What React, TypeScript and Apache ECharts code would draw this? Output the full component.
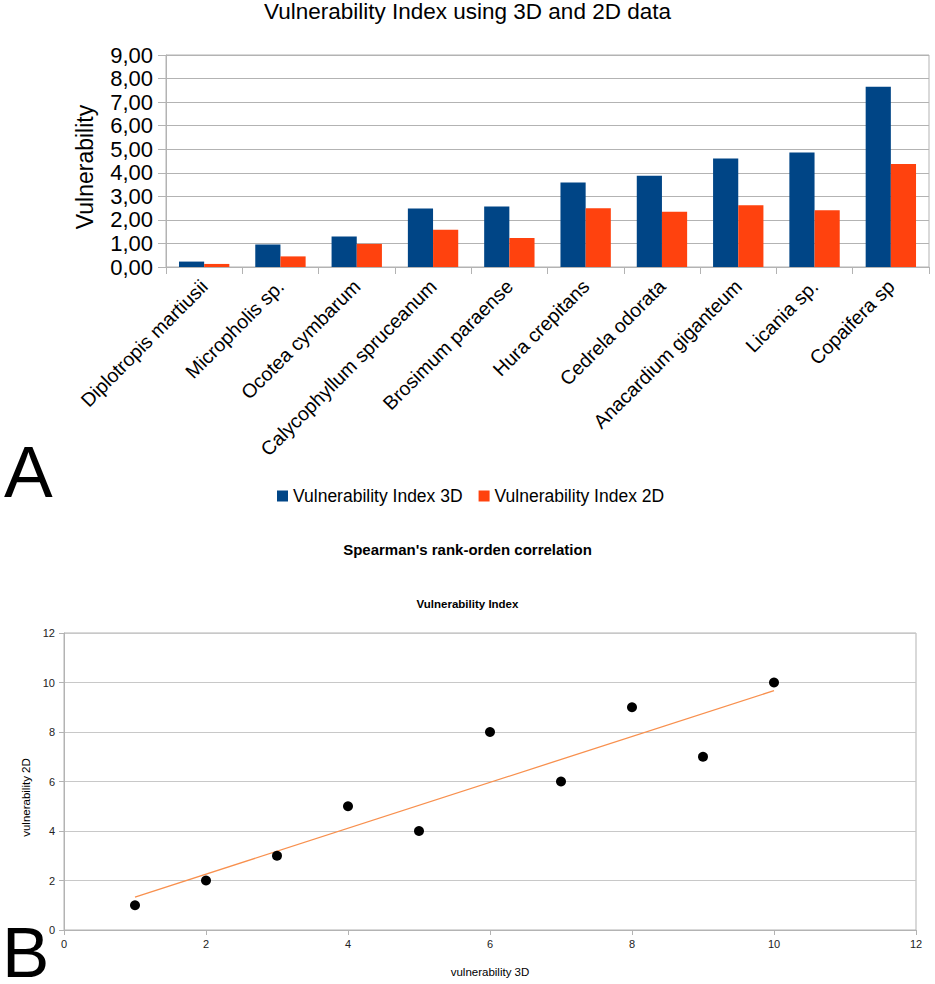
import React, { useEffect, useRef } from "react";
import * as echarts from "echarts";

const FONT = "'Liberation Sans', Arial, sans-serif";

const categories = [
  "Diplotropis martiusii",
  "Micropholis sp.",
  "Ocotea cymbarum",
  "Calycophyllum spruceanum",
  "Brosimum paraense",
  "Hura crepitans",
  "Cedrela odorata",
  "Anacardium giganteum",
  "Licania sp.",
  "Copaifera sp",
];
const index3D = [0.23, 0.95, 1.3, 2.48, 2.57, 3.59, 3.87, 4.61, 4.86, 7.65];
const index2D = [0.13, 0.45, 0.98, 1.58, 1.23, 2.49, 2.35, 2.62, 2.41, 4.37];

const rank3D = [1, 2, 3, 4, 5, 6, 7, 8, 9, 10];
const rank2D = [1, 2, 3, 5, 4, 8, 6, 9, 7, 10];

const seriesNames = ["Vulnerability Index 3D", "Vulnerability Index 2D"];

function trendLine(xs: number[], ys: number[]) {
  const n = xs.length;
  const mx = xs.reduce((a, b) => a + b, 0) / n;
  const my = ys.reduce((a, b) => a + b, 0) / n;
  let sxy = 0;
  let sxx = 0;
  for (let i = 0; i < n; i++) {
    sxy += (xs[i] - mx) * (ys[i] - my);
    sxx += (xs[i] - mx) * (xs[i] - mx);
  }
  const slope = sxy / sxx;
  const b = my - slope * mx;
  const x0 = Math.min(...xs);
  const x1 = Math.max(...xs);
  return [
    [x0, slope * x0 + b],
    [x1, slope * x1 + b],
  ];
}

export default function App() {
  const ref = useRef<HTMLDivElement>(null);
  useEffect(() => {
    if (!ref.current) return;
    const chart = echarts.init(ref.current, undefined, { renderer: "svg" });
    const grid = "#b3b3b3";
    const option: any = {
      animation: false,
      backgroundColor: "#ffffff",
      textStyle: { fontFamily: FONT },
      title: [
        {
          text: "Vulnerability Index using 3D and 2D data",
          left: "center",
          top: 0,
          padding: 0,
          textStyle: { fontSize: 22.5, fontWeight: "normal", color: "#000", fontFamily: FONT },
        },
        {
          text: "Spearman's rank-orden correlation",
          left: "center",
          top: 542,
          padding: 0,
          textStyle: { fontSize: 15, fontWeight: "bold", color: "#000", fontFamily: FONT },
        },
        {
          text: "Vulnerability Index",
          left: "center",
          top: 598,
          padding: 0,
          textStyle: { fontSize: 11.5, fontWeight: "bold", color: "#000", fontFamily: FONT },
        },
      ],
      legend: {
        data: seriesNames,
        left: 272,
        top: 482,
        icon: "rect",
        itemWidth: 11,
        itemHeight: 11,
        itemGap: 16,
        textStyle: { fontSize: 17.5, color: "#000", fontFamily: FONT },
      },
      grid: [
        {
          left: 166,
          right: 6,
          top: 55,
          height: 212,
          show: true,
          borderColor: grid,
          borderWidth: 1,
          containLabel: false,
        },
        {
          left: 64,
          right: 19,
          top: 633,
          height: 297,
          show: true,
          borderColor: grid,
          borderWidth: 1,
          containLabel: false,
        },
      ],
      xAxis: [
        {
          type: "category",
          gridIndex: 0,
          data: categories,
          axisLine: { lineStyle: { color: grid, width: 1 } },
          axisTick: { show: true, interval: 0, length: 7, lineStyle: { color: grid } },
          axisLabel: {
            interval: 0,
            rotate: 45,
            margin: 16,
            fontSize: 19.5,
            color: "#000",
            fontFamily: FONT,
          },
        },
        {
          type: "value",
          gridIndex: 1,
          min: 0,
          max: 12,
          interval: 2,
          name: "vulnerability 3D",
          nameLocation: "middle",
          nameGap: 36,
          nameTextStyle: { fontSize: 11.5, color: "#000", fontFamily: FONT },
          splitLine: { show: false },
          axisLine: { lineStyle: { color: grid } },
          axisTick: { show: true, length: 5, lineStyle: { color: grid } },
          axisLabel: { fontSize: 11, color: "#222", margin: 8, fontFamily: FONT },
        },
      ],
      yAxis: [
        {
          type: "value",
          gridIndex: 0,
          min: 0,
          max: 9,
          interval: 1,
          name: "Vulnerability",
          nameLocation: "middle",
          nameGap: 70,
          nameTextStyle: { fontSize: 23, color: "#000", fontFamily: FONT, padding: [0, 0, 0, -12] },
          axisLine: { show: true, lineStyle: { color: grid } },
          axisTick: { show: true, length: 8, lineStyle: { color: grid } },
          splitLine: { lineStyle: { color: grid, width: 1 } },
          axisLabel: {
            fontSize: 22,
            color: "#000",
            margin: 13,
            fontFamily: FONT,
            formatter: (v: number) => v.toFixed(2).replace(".", ","),
          },
        },
        {
          type: "value",
          gridIndex: 1,
          min: 0,
          max: 12,
          interval: 2,
          name: "vulnerability 2D",
          nameLocation: "middle",
          nameGap: 25,
          nameRotate: 90,
          nameTextStyle: { fontSize: 11.5, color: "#000", fontFamily: FONT, padding: [0, 0, 0, -32] },
          axisLine: { show: true, lineStyle: { color: grid } },
          axisTick: { show: true, length: 5, lineStyle: { color: grid } },
          splitLine: { lineStyle: { color: "#c8c8c8", width: 1 } },
          axisLabel: { fontSize: 11, color: "#222", margin: 9, fontFamily: FONT },
        },
      ],
      series: [
        {
          name: seriesNames[0],
          type: "bar",
          xAxisIndex: 0,
          yAxisIndex: 0,
          data: index3D,
          barGap: "0%",
          barCategoryGap: "34%",
          itemStyle: { color: "#004586" },
        },
        {
          name: seriesNames[1],
          type: "bar",
          xAxisIndex: 0,
          yAxisIndex: 0,
          data: index2D,
          barGap: "0%",
          barCategoryGap: "34%",
          itemStyle: { color: "#ff420e" },
        },
        {
          name: "trend",
          type: "line",
          xAxisIndex: 1,
          yAxisIndex: 1,
          data: trendLine(rank3D, rank2D),
          symbol: "none",
          lineStyle: { color: "#f8904e", width: 1.3 },
          z: 2,
        },
        {
          name: "ranks",
          type: "scatter",
          xAxisIndex: 1,
          yAxisIndex: 1,
          data: rank3D.map((x, i) => [x, rank2D[i]]),
          symbol: "circle",
          symbolSize: 10,
          itemStyle: { color: "#000", opacity: 1 },
          z: 3,
        },
      ],
      graphic: [
        {
          type: "text",
          left: 4,
          top: 435,
          style: { text: "A", fontSize: 73, fontFamily: FONT, fill: "#000" },
        },
        {
          type: "text",
          left: 2,
          top: 917,
          style: { text: "B", fontSize: 71, lineHeight: 64, fontFamily: FONT, fill: "#000" },
        },
      ],
    };
    chart.setOption(option);
    return () => chart.dispose();
  }, []);
  return (
    <div
      ref={ref}
      style={{ position: "absolute", left: 0, top: 0, width: 935, height: 984 }}
    />
  );
}
